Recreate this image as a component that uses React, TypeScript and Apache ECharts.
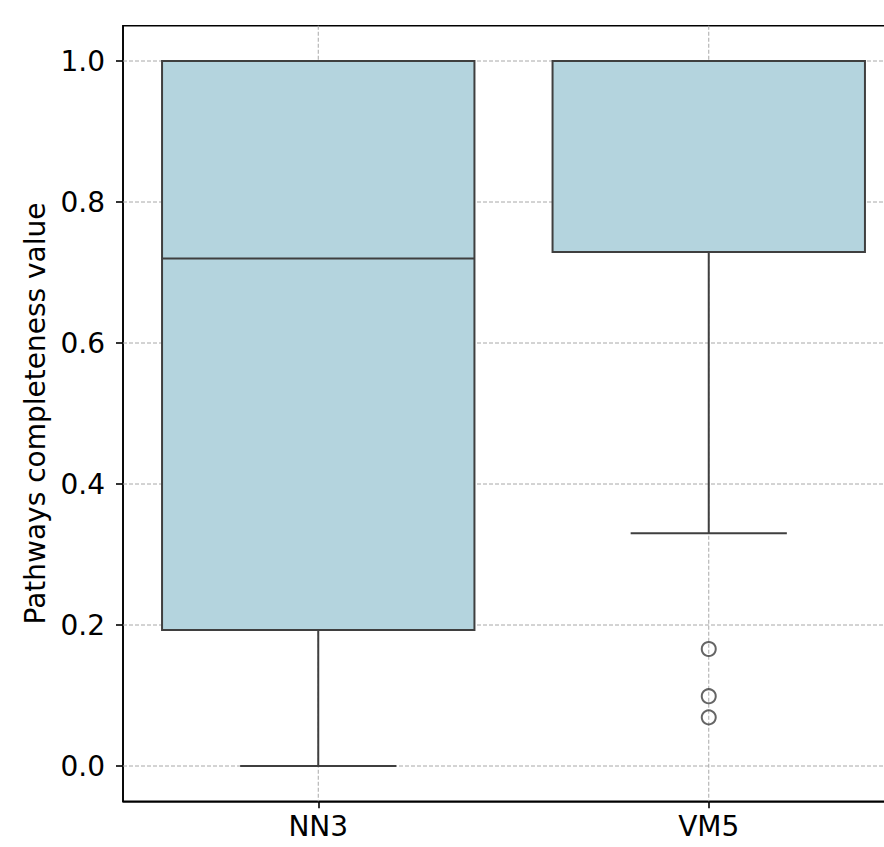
import React, { useEffect, useRef } from "react";
import * as echarts from "echarts";

const categories = ["NN3", "VM5"];
const whiskerLow = [0.0, 0.33];
const q1 = [0.193, 0.729];
const median = [0.72, 1.0];
const q3 = [1.0, 1.0];
const whiskerHigh = [1.0, 1.0];
const outliers: [string, number][] = [
  ["VM5", 0.166],
  ["VM5", 0.099],
  ["VM5", 0.069],
];
const yTicks = [0.0, 0.2, 0.4, 0.6, 0.8, 1.0];
const yLabel = "Pathways completeness value";

const FONT = "DejaVu Sans";
const EDGE = "#3f3f3f";
const FILL = "#b4d4de";
const GRIDC = "#a8a8a8";

export default function App() {
  const ref = useRef<HTMLDivElement>(null);
  useEffect(() => {
    if (!ref.current) return;
    const chart = echarts.init(ref.current, null, { renderer: "svg" });
    const boxData = categories.map((c, i) => [
      i,
      whiskerLow[i],
      q1[i],
      median[i],
      q3[i],
      whiskerHigh[i],
    ]);
    const option: any = {
      animation: false,
      backgroundColor: "#fff",
      grid: {
        left: 123,
        top: 25.75,
        width: 781,
        height: 775.5,
        show: true,
        borderColor: "#000",
        borderWidth: 1.6,
        backgroundColor: "transparent",
      },
      xAxis: {
        type: "category",
        data: categories,
        boundaryGap: true,
        axisLine: {
          show: true,
          onZero: false,
          lineStyle: { color: "#000", width: 1.6 },
        },
        axisTick: {
          show: true,
          alignWithLabel: true,
          length: 7,
          lineStyle: { color: "#000", width: 1.6 },
        },
        axisLabel: {
          color: "#000",
          fontFamily: FONT,
          fontSize: 28,
          margin: 11,
        },
        splitLine: { show: false },
      },
      yAxis: {
        type: "value",
        min: -0.05,
        max: 1.05,
        name: yLabel,
        nameLocation: "middle",
        nameGap: 72,
        nameTextStyle: { color: "#000", fontFamily: FONT, fontSize: 28 },
        axisLine: { show: true, lineStyle: { color: "#000", width: 1.6 } },
        axisTick: {
          show: true,
          length: 7,
          customValues: yTicks,
          lineStyle: { color: "#000", width: 1.6 },
        },
        axisLabel: {
          color: "#000",
          fontFamily: FONT,
          fontSize: 28,
          margin: 18,
          customValues: yTicks,
          formatter: (v: number) => v.toFixed(1),
        },
        splitLine: { show: false },
      },
      series: [
        {
          type: "custom",
          z: 1,
          silent: true,
          data: yTicks.map((t) => [t]),
          renderItem: (params: any, api: any) => {
            const cs = params.coordSys;
            const y = api.coord([0, api.value(0)])[1];
            return {
              type: "line",
              shape: { x1: cs.x, y1: y, x2: cs.x + cs.width, y2: y },
              style: { stroke: GRIDC, lineWidth: 1, lineDash: [4, 2] },
            };
          },
        },
        {
          type: "custom",
          z: 1,
          silent: true,
          data: categories.map((c, i) => [i]),
          renderItem: (params: any, api: any) => {
            const cs = params.coordSys;
            const x = api.coord([api.value(0), 0])[0];
            return {
              type: "line",
              shape: { x1: x, y1: cs.y, x2: x, y2: cs.y + cs.height },
              style: { stroke: GRIDC, lineWidth: 1, lineDash: [4, 2] },
            };
          },
        },
        {
          type: "custom",
          z: 5,
          silent: true,
          data: boxData,
          renderItem: (params: any, api: any) => {
            const idx = api.value(0);
            const band = api.size([1, 0])[0];
            const cx = api.coord([idx, 0])[0];
            const yLo = api.coord([idx, api.value(1)])[1];
            const yQ1 = api.coord([idx, api.value(2)])[1];
            const yMed = api.coord([idx, api.value(3)])[1];
            const yQ3 = api.coord([idx, api.value(4)])[1];
            const yHi = api.coord([idx, api.value(5)])[1];
            const bw = band * 0.8;
            const cw = band * 0.4;
            const ls = { stroke: EDGE, lineWidth: 2, fill: null };
            return {
              type: "group",
              children: [
                {
                  type: "line",
                  shape: { x1: cx, y1: yQ1, x2: cx, y2: yLo },
                  style: ls,
                },
                {
                  type: "line",
                  shape: { x1: cx, y1: yQ3, x2: cx, y2: yHi },
                  style: ls,
                },
                {
                  type: "line",
                  shape: { x1: cx - cw / 2, y1: yLo, x2: cx + cw / 2, y2: yLo },
                  style: ls,
                },
                {
                  type: "line",
                  shape: { x1: cx - cw / 2, y1: yHi, x2: cx + cw / 2, y2: yHi },
                  style: ls,
                },
                {
                  type: "rect",
                  shape: { x: cx - bw / 2, y: yQ3, width: bw, height: yQ1 - yQ3 },
                  style: { fill: FILL, stroke: EDGE, lineWidth: 2 },
                },
                {
                  type: "line",
                  shape: { x1: cx - bw / 2, y1: yMed, x2: cx + bw / 2, y2: yMed },
                  style: ls,
                },
              ],
            };
          },
        },
        {
          type: "scatter",
          z: 6,
          silent: true,
          data: outliers,
          symbol: "circle",
          symbolSize: 14,
          itemStyle: {
            color: "rgba(0,0,0,0)",
            borderColor: EDGE,
            borderWidth: 2,
          },
        },
      ],
    };
    chart.setOption(option);
    return () => chart.dispose();
  }, []);
  return (
    <div
      style={{
        position: "fixed",
        left: 0,
        top: 0,
        width: 884,
        height: 847,
        overflow: "hidden",
        background: "#fff",
      }}
    >
      <div ref={ref} style={{ width: 930, height: 847 }} />
    </div>
  );
}
